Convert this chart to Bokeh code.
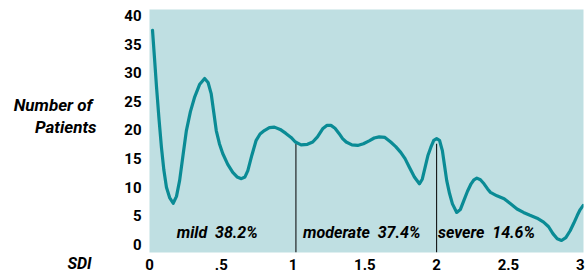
from bokeh.plotting import figure
from bokeh.layouts import row
from bokeh.models import FixedTicker, Range1d, ColumnDataSource
from bokeh.core.properties import value
from bokeh.embed import file_html
from bokeh.resources import INLINE

# ---- data ----
sdi = [0.021, 0.035, 0.049, 0.066, 0.083, 0.100, 0.118, 0.140, 0.165, 0.188, 0.21, 0.233,
       0.257, 0.285, 0.315, 0.350, 0.384, 0.408, 0.43, 0.448, 0.465, 0.487, 0.51, 0.545,
       0.58, 0.61, 0.64, 0.665, 0.685, 0.713, 0.743, 0.770, 0.80, 0.835, 0.87, 0.91,
       0.95, 0.986, 1.016, 1.056, 1.10, 1.137, 1.17, 1.206, 1.235, 1.264, 1.292, 1.32,
       1.345, 1.37, 1.41, 1.45, 1.49, 1.53, 1.565, 1.60, 1.64, 1.68, 1.715, 1.75,
       1.78, 1.81, 1.845, 1.88, 1.90, 1.92, 1.94, 1.96, 1.98, 2.0, 2.02, 2.04,
       2.055, 2.07, 2.09, 2.11, 2.14, 2.165, 2.19, 2.215, 2.24, 2.26, 2.28, 2.305,
       2.33, 2.355, 2.375, 2.42, 2.47, 2.515, 2.56, 2.605, 2.65, 2.70, 2.745, 2.78,
       2.81, 2.84, 2.87, 2.90, 2.93, 2.955, 2.98, 3.00, 3.02]
patients = [37.4, 32.5, 27.5, 22.0, 17.0, 13.0, 10.0, 8.2, 7.2, 8.4, 11.2, 15.5,
            19.9, 23.2, 25.8, 28.0, 29.0, 28.3, 26.3, 23.0, 19.9, 17.6, 15.9, 14.0,
            12.6, 11.8, 11.5, 11.8, 12.9, 15.6, 18.2, 19.3, 19.9, 20.4, 20.5, 20.1,
            19.4, 18.7, 17.9, 17.4, 17.5, 17.9, 18.8, 20.2, 20.8, 20.8, 20.3, 19.4,
            18.5, 17.9, 17.4, 17.3, 17.6, 18.1, 18.6, 18.8, 18.7, 17.9, 17.1, 16.1,
            15.0, 13.5, 11.8, 10.6, 11.4, 13.5, 15.6, 17.0, 18.2, 18.5, 18.2, 16.4,
            13.8, 11.2, 8.9, 7.1, 5.6, 6.1, 7.7, 9.3, 10.6, 11.3, 11.6, 11.3,
            10.6, 9.7, 9.1, 8.5, 8.0, 7.1, 6.2, 5.6, 5.1, 4.6, 3.9, 3.1,
            1.9, 1.0, 0.7, 1.2, 2.4, 3.7, 5.1, 6.1, 6.8]

thresholds = [1.02, 2.0]
threshold_tops = [17.6, 17.6]

region_labels = ["mild\u00a0\u00a038.2%", "moderate\u00a0\u00a037.4%", "severe\u00a0\u00a014.6%"]
region_x = [0.19, 1.07, 2.01]
region_y = [2.15, 2.15, 2.15]

x_ticks = [0, 0.5, 1, 1.5, 2, 2.5, 3]
x_tick_labels = ["0", ".5", "1", "1.5", "2", "2.5", "3"]
y_ticks = [0, 5, 10, 15, 20, 25, 30, 35, 40]

y_title_lines = ["Number of", "Patients"]
y_title_x = [92, 96]         # right edge, px in the label panel
y_title_y = [104, 126]       # vertical centre, px from top of page
x_title = "SDI"
x_title_pos = 79             # centre, px in the label panel

FONT = "Roboto"
BG = "#bfdfe2"
TEAL = "#0a8b95"
LEFT_W = 110
FRAME_TOP, FRAME_BOTTOM = 9, 252

# ---- left label panel (its frame is aligned with the main frame by the row) ----
p0 = figure(width=LEFT_W, height=275, output_backend="svg", toolbar_location=None,
            x_range=Range1d(0, LEFT_W), y_range=Range1d(FRAME_BOTTOM, FRAME_TOP),
            y_axis_type=None, min_border_left=0, min_border_right=0,
            min_border_top=FRAME_TOP, min_border_bottom=23)
p0.outline_line_color = None
p0.background_fill_color = "white"
p0.border_fill_color = "white"
p0.grid.visible = False
p0.text(x=y_title_x, y=y_title_y, text=y_title_lines, text_font=value(FONT),
        text_font_style="bold italic", text_font_size="17px", text_color="black",
        text_align="right", text_baseline="middle")
ax0 = p0.xaxis[0]
ax0.ticker = FixedTicker(ticks=[x_title_pos])
ax0.major_label_overrides = {x_title_pos: x_title}
ax0.axis_line_color = None
ax0.major_tick_line_color = None
ax0.minor_tick_line_color = None
ax0.major_tick_out = 0
ax0.major_tick_in = 0
ax0.major_label_standoff = 1
ax0.major_label_text_font = FONT
ax0.major_label_text_font_style = "bold italic"
ax0.major_label_text_font_size = "16px"
ax0.major_label_text_color = "black"

# ---- main chart ----
p = figure(width=587 - LEFT_W, height=275, output_backend="svg", toolbar_location=None,
           x_range=Range1d(0, 3.023), y_range=Range1d(-1.4, 41.05),
           min_border_left=149 - LEFT_W, min_border_right=4, min_border_top=FRAME_TOP,
           min_border_bottom=23)
p.background_fill_color = BG
p.border_fill_color = "white"
p.outline_line_color = None
p.grid.visible = False

for ax in (p.xaxis[0], p.yaxis[0]):
    ax.axis_line_color = None
    ax.major_tick_line_color = None
    ax.minor_tick_line_color = None
    ax.major_tick_out = 0
    ax.major_tick_in = 0
    ax.major_label_text_font = FONT
    ax.major_label_text_font_style = "bold"
    ax.major_label_text_font_size = "15px"
    ax.major_label_text_color = "black"

p.xaxis.ticker = FixedTicker(ticks=x_ticks)
p.xaxis.major_label_overrides = {t: l for t, l in zip(x_ticks, x_tick_labels)}
p.xaxis.major_label_standoff = 6
p.yaxis.ticker = FixedTicker(ticks=y_ticks)
p.yaxis.major_label_standoff = 8

p.segment(x0=thresholds, y0=[-1.4] * len(thresholds), x1=thresholds, y1=threshold_tops,
          line_color="black", line_width=1)

p.line(sdi, patients, line_color=TEAL, line_width=3.2, line_join="round", line_cap="round")

src = ColumnDataSource(dict(x=region_x, y=region_y, t=region_labels))
p.text(x="x", y="y", text="t", source=src, text_font=value(FONT),
       text_font_style="bold italic", text_font_size="16px", text_color="black",
       text_baseline="middle", text_align="left")

layout = row(p0, p, spacing=0)
open("out.html", "w").write(file_html(layout, INLINE))
